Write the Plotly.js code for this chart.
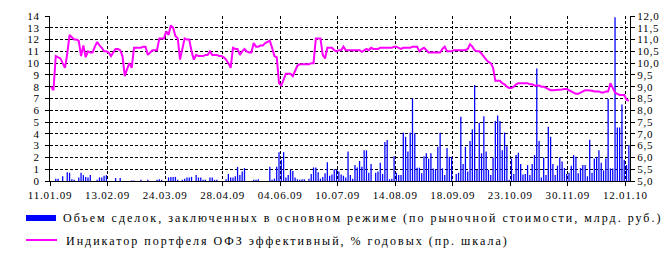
<!DOCTYPE html>
<html><head><meta charset="utf-8">
<script src="https://cdn.plot.ly/plotly-3.0.1.min.js"></script>
<style>
html,body{margin:0;padding:0;background:#fff;}
#chart{width:671px;height:268px;}
.xtick text,.ytick text,.y2tick text{letter-spacing:0.8px;}
.annotation-text{letter-spacing:2px;}
</style></head><body><div id="chart"></div>
<script>
const tickLabels = ['11.01.09','13.02.09','24.03.09','28.04.09','04.06.09','10.07.09','14.08.09','18.09.09','23.10.09','30.11.09','12.01.10'];

// Объем сделок, млрд. руб. (left axis), one value per trading day
const volume = [
 0,0,0.2,0.2,0,0.4,0,0.75,0.7,0.15,
 0.1,0,0.3,0.7,0.5,0.35,0.3,0.5,0,0,
 0.1,0.3,0.3,0.45,0.5,0,0,0,0.25,0,
 0.25,0,0,0,0,0.05,0.05,0,0,0.1,
 0,0,0.1,0,0,0,0.1,0.15,0.1,0,
 0,0.3,0.35,0.35,0.35,0.1,0,0.1,0.2,0.3,
 0.3,0.35,0,0.5,0.3,0.3,0.1,0.1,0,0.3,
 0.3,0.1,0.1,0,0,0,0.15,0.6,0.3,0.3,
 0.4,1.2,0.5,0.8,1.1,0,0,0,0.1,0.1,
 0.15,0,0,0,0,1.2,0.1,0.2,1.2,2.45,
 1.8,2.45,0.3,0.5,0.95,0.85,0.3,0.15,0.1,0.15,
 0.15,0,0.2,0.6,1.15,1.15,0.75,0.2,0.35,0.65,
 1.6,0.45,0.55,1.0,1.0,0.8,0.55,0.45,0.3,2.5,
 0.5,0.2,1.35,1.15,1.7,1.2,2.6,2.6,0.7,1.45,
 0,0.7,0.8,1.55,0.6,3.3,3.47,0.15,0.2,2.1,
 0.7,0.5,0.5,4.1,3.75,2.5,4.1,7.0,4.05,1.13,
 1.13,0.65,2.1,2.35,1.9,2.35,1.07,1.0,2.9,4.1,
 1.07,0.5,2.8,2.05,2.05,0,0.6,0.7,5.45,1.45,
 2.9,0.8,3.4,4.4,8.15,0.95,4.95,2.35,5.5,2.5,
 0.95,0.5,2.0,5.1,5.55,5.1,2.6,4.1,2.95,0.1,
 1.9,0.6,2.2,2.4,1.45,0.55,0.6,1.35,0.5,1.45,
 2.2,9.55,3.4,0.3,2.0,0.5,4.6,3.75,1.45,0.5,
 1.3,2.0,1.65,1.1,0.6,0.7,1.3,2.2,2.05,0.65,
 1.1,1.35,1.35,0.4,3.5,0.7,1.9,2.05,2.6,1.55,
 0.9,1.9,6.95,1.07,1.07,13.9,4.55,4.55,6.5,1.8,
 1.35,3.05
];

// Индикатор портфеля ОФЗ, % годовых (right axis)
const ofzIndex = [
 9.00,8.85,10.30,10.25,10.20,10.00,9.80,10.40,11.20,11.10,
 11.00,11.00,10.95,10.30,10.75,10.25,10.50,10.45,10.45,10.70,
 10.90,10.75,10.65,10.50,10.50,10.45,10.30,10.45,10.60,10.60,
 10.55,10.30,9.45,9.75,10.00,9.80,10.65,10.65,10.65,10.65,
 10.70,10.70,10.35,10.45,10.55,10.55,10.55,11.05,11.05,11.05,
 11.35,11.20,11.60,11.50,11.15,11.05,10.15,10.60,11.05,11.00,
 11.00,10.50,10.15,10.35,10.30,10.30,10.30,10.35,10.35,10.50,
 10.35,10.35,10.35,10.30,10.30,10.25,10.15,10.00,9.80,10.65,
 10.60,10.60,10.35,10.50,10.60,10.50,10.45,10.45,10.85,10.70,
 10.70,10.75,10.75,10.85,10.90,10.95,10.65,10.30,10.25,9.15,
 9.05,9.30,9.55,9.55,9.55,9.45,9.65,9.90,9.95,9.95,
 9.95,9.95,9.95,10.00,10.00,11.05,11.05,11.05,10.35,10.20,
 10.65,10.65,10.65,10.55,10.50,10.55,10.55,10.70,10.55,10.55,
 10.55,10.55,10.55,10.55,10.55,10.48,10.55,10.60,10.55,10.65,
 10.60,10.60,10.60,10.65,10.65,10.65,10.65,10.65,10.65,10.70,
 10.70,10.65,10.60,10.65,10.65,10.65,10.65,10.70,10.70,10.70,
 10.50,10.60,10.65,10.55,10.45,10.45,10.45,10.45,10.45,10.45,
 10.60,10.70,10.50,10.50,10.50,10.55,10.55,10.55,10.55,10.55,
 10.55,10.60,10.80,10.70,10.55,10.50,10.50,10.40,10.25,10.15,
 10.05,10.00,9.80,9.25,9.25,9.25,9.15,9.10,9.00,8.95,
 8.95,9.00,9.10,9.15,9.15,9.15,9.15,9.15,9.10,9.10,
 9.05,9.05,9.05,9.00,9.00,8.95,8.90,8.85,8.85,8.85,
 8.85,8.85,8.88,8.90,8.90,8.85,8.80,8.75,8.70,8.70,
 8.75,8.80,8.85,8.85,8.85,8.83,8.80,8.80,8.80,8.75,
 8.75,8.80,8.80,9.15,8.95,8.75,8.70,8.65,8.65,8.65,
 8.45,8.40
];

const rightTickVals = [5,5.5,6,6.5,7,7.5,8,8.5,9,9.5,10,10.5,11,11.5,12];
const rightTickText = ['5,0','5,5','6,0','6,5','7,0','7,5','8,0','8,5','9,0','9,5','10,0','10,5','11,0','11,5','12,0'];
const seriesNames = [
 'Объем сделок, заключенных в основном режиме (по рыночной стоимости, млрд. руб.)',
 'Индикатор портфеля ОФЗ эффективный, % годовых (пр. шкала)'
];

const n = volume.length;
const idx = volume.map((_, i) => i);
const tickPos = tickLabels.map((_, k) => k * 25 - 0.5);

const W = 671, H = 268, ML = 50, MR = 41, MT = 16, MB = 87;
const pw = W - ML - MR, ph = H - MT - MB;
const px = x => (x - ML) / pw;
const py = y => (H - MB - y) / ph;

const FONT = '"Liberation Serif", "Times New Roman", serif';

const traces = [
 {type:'bar', x:idx, y:volume, name:seriesNames[0], marker:{color:'#0000FF', line:{width:0}}, width:0.55, yaxis:'y', hoverinfo:'skip'},
 {type:'scatter', mode:'lines', x:idx, y:ofzIndex, name:seriesNames[1], line:{color:'#FF00FF', width:2}, yaxis:'y2', hoverinfo:'skip'}
];

const gridStyle = {showgrid:true, gridcolor:'#000', gridwidth:1, griddash:'3px,2px'};

const layout = {
 width:W, height:H, margin:{l:ML, r:MR, t:MT, b:MB, pad:0},
 paper_bgcolor:'#fff', plot_bgcolor:'#fff',
 font:{family:FONT, size:11, color:'#000'},
 showlegend:false,
 xaxis:Object.assign({range:[-0.5, n-0.5], tickmode:'array', tickvals:tickPos, ticktext:tickLabels, tickangle:0,
   showline:true, linecolor:'#000', linewidth:1, ticks:'outside', ticklen:4, tickcolor:'#000', zeroline:false,
   tickfont:{family:FONT, size:11, color:'#000'}}, gridStyle),
 yaxis:Object.assign({range:[0,14], tick0:0, dtick:1, showline:true, linecolor:'#000', linewidth:1,
   ticks:'outside', ticklen:4, tickcolor:'#000', zeroline:false, ticklabelstandoff:3,
   tickfont:{family:FONT, size:11, color:'#000'}}, gridStyle),
 yaxis2:{overlaying:'y', side:'right', range:[5,12], tickmode:'array', tickvals:rightTickVals, ticktext:rightTickText,
   showgrid:false, showline:true, linecolor:'#000', linewidth:1, ticks:'outside', ticklen:4, tickcolor:'#000', zeroline:false,
   tickfont:{family:FONT, size:11, color:'#000'}},
 shapes:[
  {type:'rect', xref:'paper', yref:'paper', x0:px(26), x1:px(56), y0:py(221), y1:py(215), fillcolor:'#0000FF', line:{width:0}},
  {type:'line', xref:'paper', yref:'paper', x0:px(26), x1:px(57), y0:py(240), y1:py(240), line:{color:'#FF00FF', width:2}}
 ],
 annotations:[
  {xref:'paper', yref:'paper', x:px(61), y:py(218), xanchor:'left', yanchor:'middle', text:seriesNames[0], showarrow:false, font:{family:FONT, size:12, color:'#000'}},
  {xref:'paper', yref:'paper', x:px(64), y:py(241), xanchor:'left', yanchor:'middle', text:seriesNames[1], showarrow:false, font:{family:FONT, size:12, color:'#000'}}
 ]
};

Plotly.newPlot('chart', traces, layout, {staticPlot:true, displayModeBar:false});
</script></body></html>
